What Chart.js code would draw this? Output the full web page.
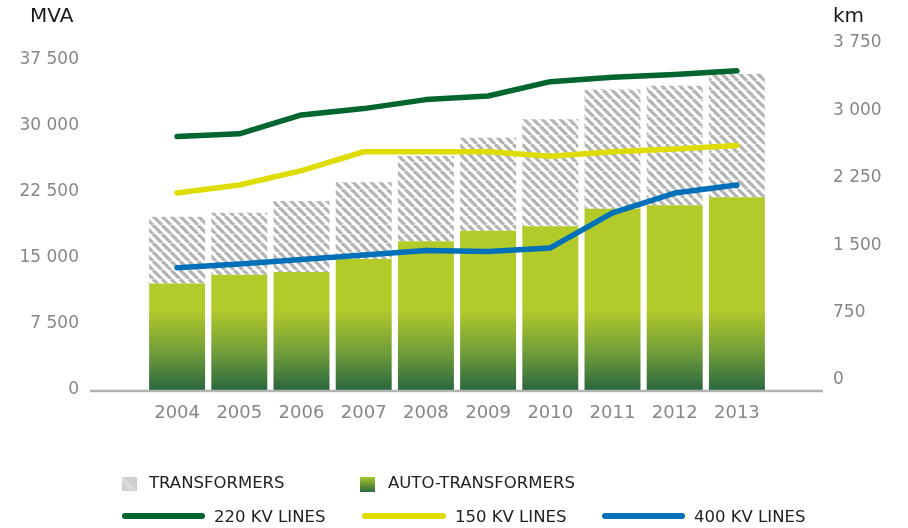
<!DOCTYPE html>
<html>
<head>
<meta charset="utf-8">
<script src="https://cdn.jsdelivr.net/npm/chart.js@4.4.1/dist/chart.umd.min.js"></script>
<style>
  html, body { margin: 0; padding: 0; background: #fff; }
  #wrap { position: relative; width: 908px; height: 528px; font-family: 'DejaVu Sans', sans-serif; }
  #wrap canvas { position: absolute; left: 0; top: 0; }
  .lg { position: absolute; font-size: 16.5px; color: #222; line-height: 20px; white-space: nowrap; }
  .sw { position: absolute; }
</style>
</head>
<body>
<div id="wrap">
  <canvas id="chart" width="908" height="528"></canvas>

  <div class="sw" style="left:122px;top:477px;width:15px;height:14px;background:repeating-linear-gradient(45deg,#c4c4c4 0 1px,#e4e4e4 1px 2px);"></div>
  <div class="lg" style="left:149px;top:473px;">TRANSFORMERS</div>
  <div class="sw" style="left:360px;top:477px;width:15px;height:15px;background:linear-gradient(#a9c42d,#2b6a3f);"></div>
  <div class="lg" style="left:388px;top:473px;">AUTO-TRANSFORMERS</div>

  <div class="sw" style="left:122px;top:513px;width:83px;height:6px;border-radius:3px;background:#00652e;"></div>
  <div class="lg" style="left:214px;top:507px;">220 KV LINES</div>
  <div class="sw" style="left:362px;top:513px;width:84px;height:6px;border-radius:3px;background:#dedc00;"></div>
  <div class="lg" style="left:455px;top:507px;">150 KV LINES</div>
  <div class="sw" style="left:602px;top:513px;width:83px;height:6px;border-radius:3px;background:#0070b8;"></div>
  <div class="lg" style="left:694px;top:507px;">400 KV LINES</div>
</div>

<script>
const years = ['2004', '2005', '2006', '2007', '2008', '2009', '2010', '2011', '2012', '2013'];

// MVA, left axis
const autoTransformers = [12100, 13100, 13400, 14900, 16900, 18100, 18600, 20600, 21000, 21900];
const transformers = [7600, 7050, 8080, 8700, 9690, 10570, 12160, 13570, 13580, 14010];

// km, right axis
const lines220 = [2710, 2740, 2950, 3020, 3120, 3160, 3320, 3370, 3400, 3440];
const lines150 = [2080, 2170, 2330, 2540, 2540, 2540, 2490, 2540, 2570, 2610];
const lines400 = [1250, 1290, 1340, 1390, 1440, 1430, 1470, 1860, 2080, 2170];

const mvaTicks = [0, 7500, 15000, 22500, 30000, 37500];
const kmTicks = [0, 750, 1500, 2250, 3000, 3750];

const fmt = (v) => String(v).replace(/\B(?=(\d{3})+(?!\d))/g, ' ');

// diagonal hatch for the transformers part
function makeHatch() {
  const p = 9;
  const c = document.createElement('canvas');
  c.width = p; c.height = p;
  const g = c.getContext('2d');
  g.fillStyle = '#fff';
  g.fillRect(0, 0, p, p);
  g.strokeStyle = '#b4b4b4';
  g.lineWidth = 3.3;
  for (let k = -1; k <= 1; k++) {
    g.beginPath();
    g.moveTo(k * p, 0);
    g.lineTo(k * p + p, p);
    g.stroke();
  }
  return g.createPattern(c, 'repeat');
}
const hatch = makeHatch();

const greenFill = (context) => {
  const { ctx, chartArea } = context.chart;
  if (!chartArea) return '#b3ca2b';
  const grad = ctx.createLinearGradient(0, chartArea.bottom, 0, chartArea.bottom - 80);
  grad.addColorStop(0, '#2a673f');
  grad.addColorStop(0.45, '#6e9b3a');
  grad.addColorStop(1, '#b3ca2b');
  return grad;
};

// axis units and the grey base line
const extras = {
  id: 'extras',
  afterDatasetsDraw(chart) {
    const { ctx, chartArea } = chart;
    ctx.save();
    ctx.strokeStyle = '#b3b3b3';
    ctx.lineWidth = 2.5;
    ctx.beginPath();
    ctx.moveTo(90, chartArea.bottom + 1);
    ctx.lineTo(823, chartArea.bottom + 1);
    ctx.stroke();

    ctx.fillStyle = '#1a1a1a';
    ctx.font = '20px "DejaVu Sans"';
    ctx.textBaseline = 'middle';
    ctx.textAlign = 'left';
    ctx.fillText('MVA', 30, 17);
    ctx.fillText('km', 833, 17);
    ctx.restore();
  }
};

const lineStyle = {
  type: 'line',
  yAxisID: 'y1',
  borderWidth: 5.5,
  pointRadius: 0,
  tension: 0,
  borderCapStyle: 'round',
  borderJoinStyle: 'round',
  fill: false,
  order: 0
};

// fixed side widths; drop the label padding that would push the plot down
const fixSide = (w) => (s) => {
  s.width = w;
  s.paddingTop = 0;
  s.paddingBottom = 0;
};

new Chart(document.getElementById('chart'), {
  type: 'bar',
  data: {
    labels: years,
    datasets: [
      { ...lineStyle, label: '220 KV LINES', data: lines220, borderColor: '#00652e' },
      { ...lineStyle, label: '150 KV LINES', data: lines150, borderColor: '#dedc00' },
      { ...lineStyle, label: '400 KV LINES', data: lines400, borderColor: '#0070b8' },
      {
        label: 'AUTO-TRANSFORMERS',
        data: autoTransformers,
        backgroundColor: greenFill,
        borderWidth: 0,
        barPercentage: 0.9,
        categoryPercentage: 1,
        order: 1
      },
      {
        label: 'TRANSFORMERS',
        data: transformers,
        backgroundColor: hatch,
        borderWidth: 0,
        barPercentage: 0.9,
        categoryPercentage: 1,
        order: 1
      }
    ]
  },
  options: {
    responsive: false,
    animation: false,
    layout: { padding: { top: 43, left: 0, right: 0, bottom: 0 } },
    plugins: {
      legend: { display: false },
      tooltip: { enabled: false }
    },
    scales: {
      x: {
        stacked: true,
        grid: { display: false, drawTicks: false },
        border: { display: false },
        ticks: {
          color: '#878787',
          padding: 13,
          font: { size: 18, family: 'DejaVu Sans' }
        },
        afterFit: (s) => { s.height = 138; }
      },
      y: {
        position: 'left',
        stacked: true,
        min: 0,
        max: 39432,
        grid: { display: false, drawTicks: false },
        border: { display: false },
        afterBuildTicks: (s) => { s.ticks = mvaTicks.map(v => ({ value: v })); },
        ticks: {
          color: '#878787',
          padding: 67,
          font: { size: 17, family: 'DejaVu Sans' },
          callback: (v) => fmt(v)
        },
        afterFit: fixSide(146)
      },
      y1: {
        position: 'right',
        min: -111,
        max: 3750,
        grid: { display: false, drawTicks: false },
        border: { display: false },
        afterBuildTicks: (s) => { s.ticks = kmTicks.map(v => ({ value: v })); },
        ticks: {
          color: '#878787',
          padding: 65,
          font: { size: 17, family: 'DejaVu Sans' },
          callback: (v) => fmt(v)
        },
        afterFit: fixSide(140)
      }
    }
  },
  plugins: [extras]
});
</script>
</body>
</html>
